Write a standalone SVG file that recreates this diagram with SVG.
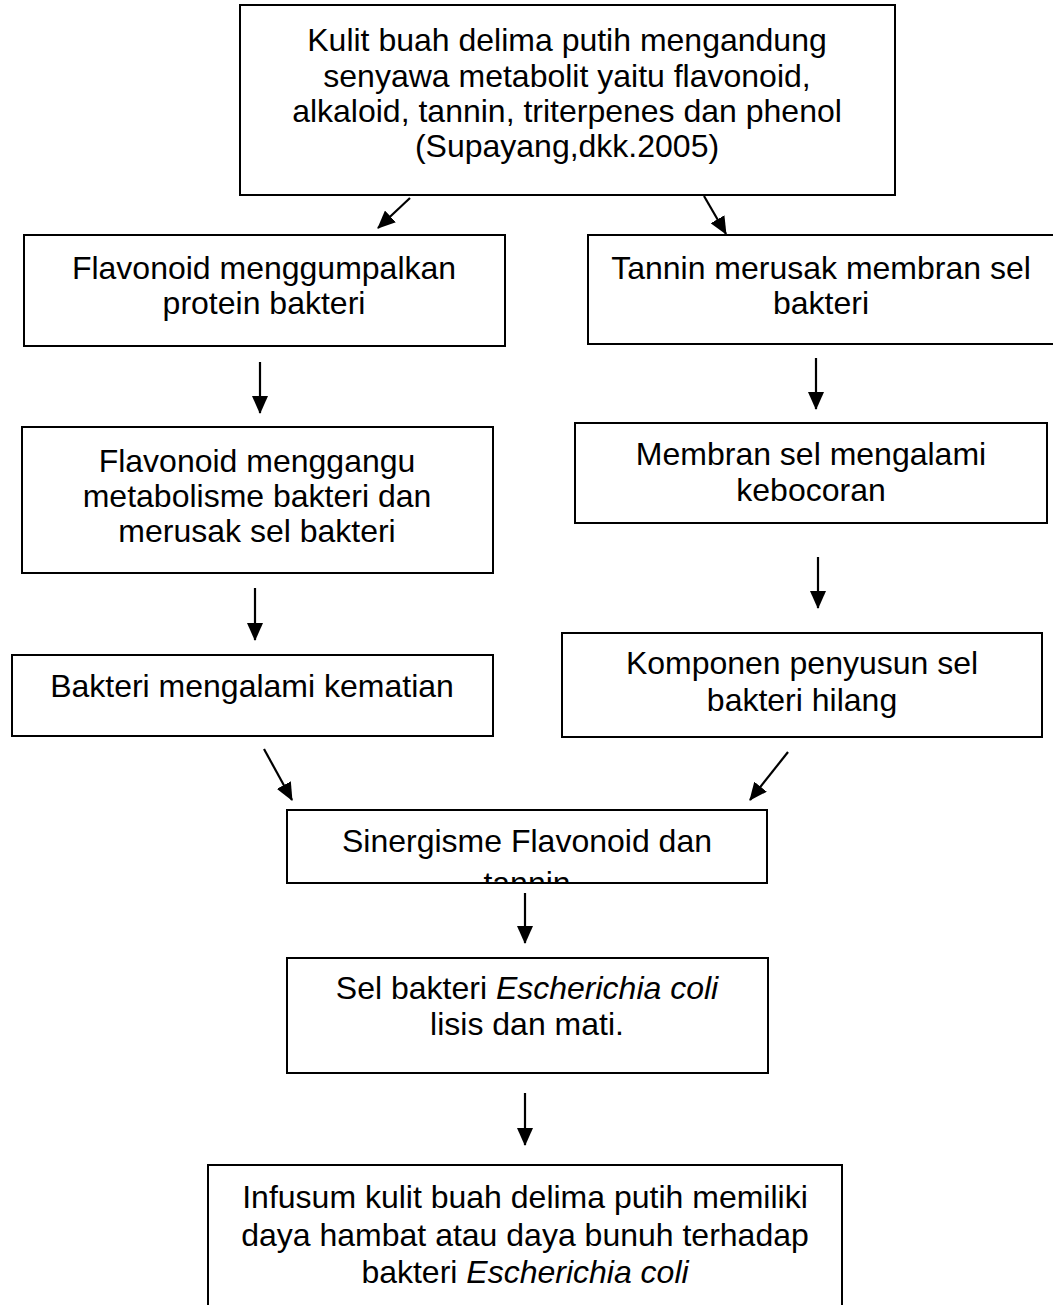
<svg xmlns="http://www.w3.org/2000/svg" width="1053" height="1305" viewBox="0 0 1053 1305">
<style>
  .box { fill: #ffffff; stroke: #000000; stroke-width: 2; }
  .t { font-family: "Liberation Sans", Arial, sans-serif; font-size: 32px; fill: #000000; text-anchor: middle; }
  .it { font-style: italic; }
  .c { stroke: #000000; stroke-width: 2.2; fill: none; marker-end: url(#ah); }
</style>
<defs>
  <marker id="ah" markerUnits="userSpaceOnUse" markerWidth="18" markerHeight="16" refX="17" refY="8" orient="auto">
    <path d="M0,0 L18,8 L0,16 z" fill="#000000"/>
  </marker>
  <clipPath id="clipSin">
    <rect x="288" y="811" width="478" height="71"/>
  </clipPath>
</defs>
<rect width="1053" height="1305" fill="#ffffff"/>

<g id="n-top">
  <rect class="box" x="240" y="5" width="655" height="190"/>
  <text class="t" x="567" y="51">Kulit buah delima putih mengandung</text>
  <text class="t" x="567" y="87">senyawa metabolit yaitu flavonoid,</text>
  <text class="t" x="567" y="122">alkaloid, tannin, triterpenes dan phenol</text>
  <text class="t" x="567" y="157">(Supayang,dkk.2005)</text>
</g>

<g id="n-flav1">
  <rect class="box" x="24" y="235" width="481" height="111"/>
  <text class="t" x="264" y="279">Flavonoid menggumpalkan</text>
  <text class="t" x="264" y="314">protein bakteri</text>
</g>

<g id="n-tan1">
  <rect class="box" x="588" y="235" width="468" height="109"/>
  <text class="t" x="821" y="279">Tannin merusak membran sel</text>
  <text class="t" x="821" y="314">bakteri</text>
</g>

<g id="n-flav2">
  <rect class="box" x="22" y="427" width="471" height="146"/>
  <text class="t" x="257" y="472">Flavonoid menggangu</text>
  <text class="t" x="257" y="507">metabolisme bakteri dan</text>
  <text class="t" x="257" y="542">merusak sel bakteri</text>
</g>

<g id="n-tan2">
  <rect class="box" x="575" y="423" width="472" height="100"/>
  <text class="t" x="811" y="465">Membran sel mengalami</text>
  <text class="t" x="811" y="501">kebocoran</text>
</g>

<g id="n-flav3">
  <rect class="box" x="12" y="655" width="481" height="81"/>
  <text class="t" x="252" y="697">Bakteri mengalami kematian</text>
</g>

<g id="n-tan3">
  <rect class="box" x="562" y="633" width="480" height="104"/>
  <text class="t" x="802" y="674">Komponen penyusun sel</text>
  <text class="t" x="802" y="711">bakteri hilang</text>
</g>

<g id="n-sinergi">
  <rect class="box" x="287" y="810" width="480" height="73"/>
  <g clip-path="url(#clipSin)">
    <text class="t" x="527" y="852">Sinergisme Flavonoid dan</text>
    <text class="t" x="527" y="894">tannin</text>
  </g>
</g>

<g id="n-lisis">
  <rect class="box" x="287" y="958" width="481" height="115"/>
  <text class="t" x="527" y="999">Sel bakteri <tspan class="it">Escherichia coli</tspan></text>
  <text class="t" x="527" y="1035">lisis dan mati.</text>
</g>

<g id="n-infusum">
  <rect class="box" x="208" y="1165" width="634" height="150"/>
  <text class="t" x="525" y="1208">Infusum kulit buah delima putih memiliki</text>
  <text class="t" x="525" y="1246">daya hambat atau daya bunuh terhadap</text>
  <text class="t" x="525" y="1283">bakteri <tspan class="it">Escherichia coli</tspan></text>
</g>

<g id="connectors">
  <line class="c" x1="410" y1="198" x2="378" y2="228"/>
  <line class="c" x1="704" y1="196" x2="726" y2="234"/>
  <line class="c" x1="260" y1="362" x2="260" y2="413"/>
  <line class="c" x1="816" y1="358" x2="816" y2="409"/>
  <line class="c" x1="255" y1="588" x2="255" y2="640"/>
  <line class="c" x1="818" y1="557" x2="818" y2="608"/>
  <line class="c" x1="264" y1="749" x2="292" y2="800"/>
  <line class="c" x1="788" y1="752" x2="750" y2="800"/>
  <line class="c" x1="525" y1="893" x2="525" y2="943"/>
  <line class="c" x1="525" y1="1093" x2="525" y2="1145"/>
</g>
</svg>
